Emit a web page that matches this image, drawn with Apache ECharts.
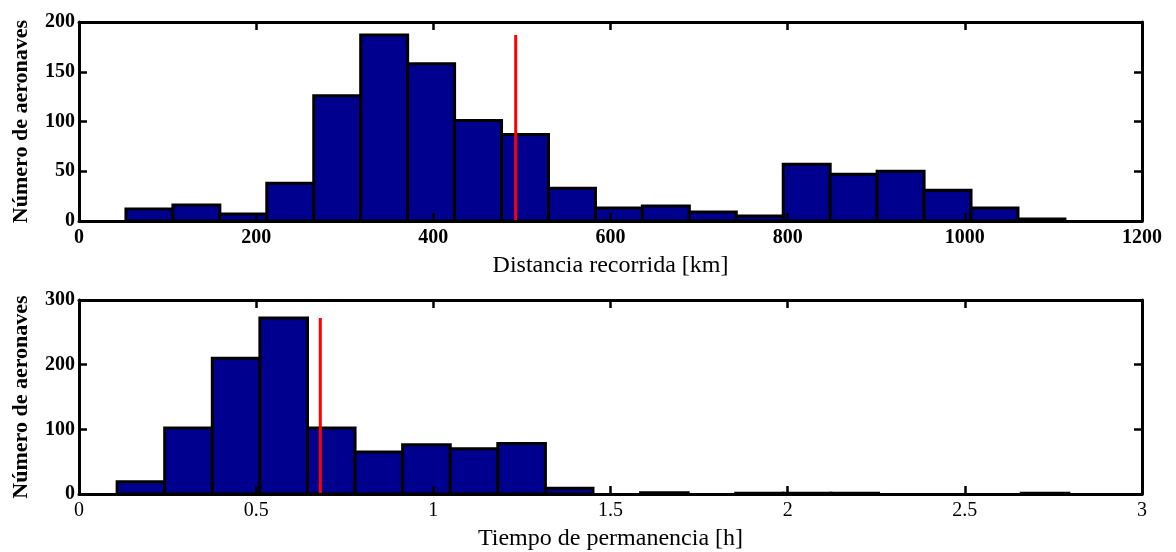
<!DOCTYPE html>
<html>
<head>
<meta charset="utf-8">
<script src="https://cdn.jsdelivr.net/npm/echarts@6/dist/echarts.min.js"></script>
<style>
html,body{margin:0;padding:0;background:#fff;}
#main{width:1176px;height:552px;}
</style>
</head>
<body>
<div id="main"></div>
<script>
// histogram 1: distance flown [km], 20 bins
var distEdges = [53,106,159,212,265,318,371,424,477,530,583,636,689,742,795,848,901,954,1007,1060,1113];
var distCounts = [12,16,7,38,126,187,158,101,87,33,13,15,9,5,57,47,50,31,13,2];
var distMean = 493;
var distTicks = [0,200,400,600,800,1000,1200];

// histogram 2: time in sector [h], 20 bins
var timeEdges = [0.1076,0.2419,0.3762,0.5105,0.6448,0.7791,0.9134,1.0477,1.1820,1.3163,1.4506,1.5849,1.7192,1.8535,1.9878,2.1221,2.2564,2.3907,2.5250,2.6593,2.7936];
var timeCounts = [19,102,210,272,102,65,76,70,78,9,0,2,0,1,1,1,0,0,0,1];
var timeMean = 0.681;
var timeTicks = [0,0.5,1,1.5,2,2.5,3];

var FONT = '"Liberation Serif", "DejaVu Serif", serif';

function binData(edges, counts){
	var out = [];
	for (var i = 0; i < counts.length; i++) {
		if (counts[i] > 0) out.push([edges[i], edges[i+1], counts[i]]);
	}
	return out;
}

function renderBar(params, api){
	var p0 = api.coord([api.value(0), api.value(2)]);
	var p1 = api.coord([api.value(1), 0]);
	return {
		type: 'rect',
		shape: {x: p0[0], y: p0[1], width: p1[0]-p0[0], height: p1[1]-p0[1]},
		style: {fill: '#00008F', stroke: '#000', lineWidth: 3}
	};
}

function xAxes(gi, ticks, name, weight){
	var lo = ticks[0], hi = ticks[ticks.length-1], step = ticks[1]-ticks[0];
	return [{
		type: 'value', gridIndex: gi, position: 'bottom', min: lo, max: hi, interval: step,
		name: name, nameLocation: 'middle', nameGap: 33,
		nameTextStyle: {fontFamily: FONT, fontSize: 24, color: '#000'},
		axisLine: {show: true, onZero: false, lineStyle: {color: '#000', width: 3}},
		axisTick: {show: true, inside: true, length: 8, lineStyle: {color: '#000', width: 2.5}},
		axisLabel: {fontFamily: FONT, fontSize: 20, fontWeight: weight, color: '#000', margin: 7,
			formatter: function(v){ return String(v); }},
		splitLine: {show: false}, z: 5
	}, {
		type: 'value', gridIndex: gi, position: 'top', min: lo, max: hi, interval: step,
		axisLine: {show: true, onZero: false, lineStyle: {color: '#000', width: 3}},
		axisTick: {show: true, inside: true, length: 8, lineStyle: {color: '#000', width: 2.5}},
		axisLabel: {show: false},
		splitLine: {show: false}, z: 5
	}];
}

function yAxes(gi, max, step){
	return [{
		type: 'value', gridIndex: gi, position: 'left', min: 0, max: max, interval: step,
		name: 'Número de aeronaves', nameLocation: 'middle', nameGap: 47,
		nameTextStyle: {fontFamily: FONT, fontSize: 22, fontWeight: 'bold', color: '#000'},
		axisLine: {show: true, onZero: false, lineStyle: {color: '#000', width: 3}},
		axisTick: {show: true, inside: true, length: 8, lineStyle: {color: '#000', width: 2.5}},
		axisLabel: {fontFamily: FONT, fontSize: 20, fontWeight: 'bold', color: '#000', margin: 4},
		splitLine: {show: false}, z: 5
	}, {
		type: 'value', gridIndex: gi, position: 'right', min: 0, max: max, interval: step,
		axisLine: {show: true, onZero: false, lineStyle: {color: '#000', width: 3}},
		axisTick: {show: true, inside: true, length: 8, lineStyle: {color: '#000', width: 2.5}},
		axisLabel: {show: false},
		splitLine: {show: false}, z: 5
	}];
}

var chart = echarts.init(document.getElementById('main'));

var option = {
	backgroundColor: '#fff',
	animation: false,
	grid: [
		{left: 79, right: 34, top: 22, height: 199},
		{left: 79, right: 34, top: 300, height: 199}
	],
	xAxis: xAxes(0, distTicks, 'Distancia recorrida [km]', 'bold').concat(xAxes(1, timeTicks, 'Tiempo de permanencia [h]', 'normal')),
	yAxis: yAxes(0, 200, 50).concat(yAxes(1, 300, 100)),
	series: [{
		type: 'custom', xAxisIndex: 0, yAxisIndex: 0,
		renderItem: renderBar, encode: {x: [0, 1], y: 2},
		data: binData(distEdges, distCounts), z: 2
	}, {
		type: 'line', xAxisIndex: 0, yAxisIndex: 0, symbol: 'none',
		lineStyle: {color: '#ff0000', width: 3},
		data: [[distMean, 0], [distMean, Math.max.apply(null, distCounts)]], z: 3
	}, {
		type: 'custom', xAxisIndex: 2, yAxisIndex: 2,
		renderItem: renderBar, encode: {x: [0, 1], y: 2},
		data: binData(timeEdges, timeCounts), z: 2
	}, {
		type: 'line', xAxisIndex: 2, yAxisIndex: 2, symbol: 'none',
		lineStyle: {color: '#ff0000', width: 3},
		data: [[timeMean, 0], [timeMean, Math.max.apply(null, timeCounts)]], z: 3
	}]
};

chart.setOption(option);
</script>
</body>
</html>
